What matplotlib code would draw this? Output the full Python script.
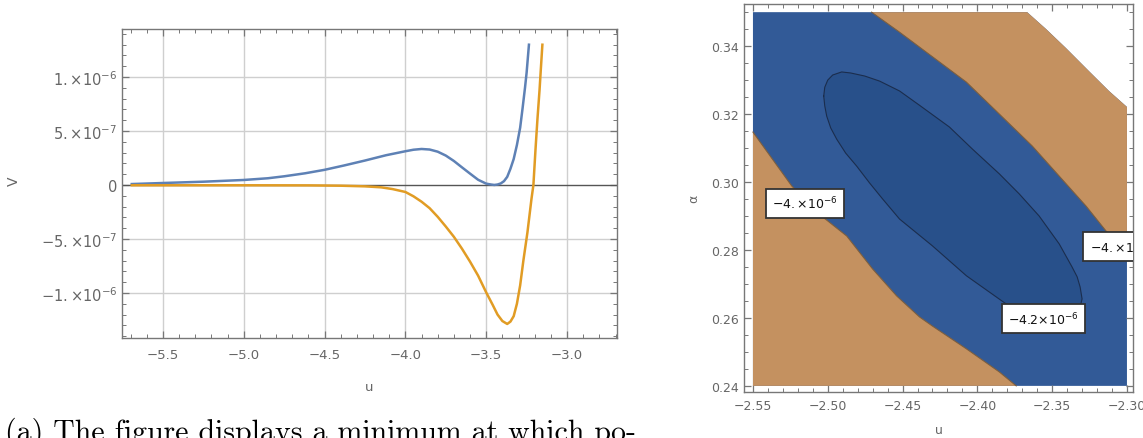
import matplotlib
matplotlib.use('Agg')
import matplotlib.pyplot as plt
from matplotlib.ticker import FixedLocator, MultipleLocator

plt.rcParams['mathtext.fontset'] = 'dejavusans'

# ---- left panel: V(u) along two directions, in units of 1e-6 ----
u_blue = [-5.70, -5.50, -5.25, -5.00, -4.85, -4.75, -4.62, -4.50, -4.38, -4.25,
          -4.12, -4.00, -3.95, -3.90, -3.85, -3.80, -3.75, -3.70, -3.65, -3.60,
          -3.55, -3.50, -3.47, -3.45, -3.43, -3.41, -3.39, -3.37, -3.35, -3.33,
          -3.31, -3.29, -3.275, -3.26, -3.25, -3.235]
v_blue = [0.008, 0.018, 0.030, 0.046, 0.062, 0.080, 0.108, 0.140, 0.180, 0.226,
          0.275, 0.312, 0.326, 0.333, 0.328, 0.308, 0.272, 0.222, 0.163, 0.105,
          0.048, 0.012, 0.004, 0.000, 0.004, 0.014, 0.035, 0.075, 0.150, 0.240,
          0.370, 0.530, 0.710, 0.900, 1.040, 1.310]

u_orange = [-5.70, -5.00, -4.60, -4.40, -4.25, -4.15, -4.08, -4.00, -3.95, -3.90,
            -3.85, -3.80, -3.75, -3.70, -3.65, -3.60, -3.55, -3.50, -3.46, -3.43,
            -3.40, -3.37, -3.35, -3.33, -3.31, -3.29, -3.27, -3.245, -3.22, -3.208,
            -3.195, -3.183, -3.17, -3.162, -3.152]
v_orange = [-0.003, -0.003, -0.004, -0.007, -0.013, -0.022, -0.038, -0.065, -0.105, -0.155,
            -0.215, -0.295, -0.385, -0.480, -0.590, -0.710, -0.840, -0.995, -1.110, -1.200,
            -1.260, -1.287, -1.265, -1.215, -1.100, -0.930, -0.700, -0.440, -0.130, 0.000,
            0.330, 0.610, 0.880, 1.074, 1.310]

v_ticks = [-1.0, -0.5, 0.0, 0.5, 1.0]
v_ticklabels = [r'$-1.{\times}10^{-6}$', r'$-5.{\times}10^{-7}$', '0',
                r'$5.{\times}10^{-7}$', r'$1.{\times}10^{-6}$']
u_ticks = [-5.5, -5.0, -4.5, -4.0, -3.5, -3.0]

# ---- right panel: contour lines of V(u, alpha) ----
u_range = [-2.55, -2.30]
alpha_range = [0.24, 0.35]

# V = -4.2e-6 (closed curve)
ell_u = [-2.5027, -2.5020, -2.5000, -2.4967, -2.4907, -2.4847, -2.4753, -2.4653,
         -2.4520, -2.4387, -2.4187, -2.4033, -2.3853, -2.3720, -2.3587, -2.3453,
         -2.3367, -2.3333, -2.3313, -2.3300, -2.3313, -2.3353, -2.3453, -2.3620,
         -2.3807, -2.4073, -2.4300, -2.4520, -2.4633, -2.4720, -2.4807, -2.4880,
         -2.4940, -2.4980, -2.5007, -2.5020, -2.5027]
ell_a = [0.3253, 0.3279, 0.3300, 0.3315, 0.3324, 0.3321, 0.3312, 0.3297,
         0.3268, 0.3226, 0.3162, 0.3097, 0.3024, 0.2965, 0.2900, 0.2818,
         0.2750, 0.2721, 0.2691, 0.2656, 0.2632, 0.2618, 0.2609, 0.2615,
         0.2641, 0.2724, 0.2812, 0.2891, 0.2950, 0.2997, 0.3047, 0.3085,
         0.3126, 0.3159, 0.3194, 0.3224, 0.3253]

# V = -4e-6, lower-left branch
low_u = [-2.550, -2.524, -2.5033, -2.4873, -2.470, -2.454, -2.4387, -2.430,
         -2.4073, -2.3853, -2.374]
low_a = [0.3147, 0.2988, 0.2897, 0.2841, 0.2744, 0.2665, 0.2603, 0.2576,
         0.2509, 0.2441, 0.2400]

# V = -4e-6, upper-right branch
up_u = [-2.4707, -2.452, -2.4073, -2.3633, -2.3273, -2.314, -2.300]
up_a = [0.3500, 0.3441, 0.3294, 0.3106, 0.2929, 0.2856, 0.2788]

# edge of the region where V is defined (white corner)
dom_u = [-2.3667, -2.3540, -2.3407, -2.3253, -2.3120, -2.3000]
dom_a = [0.3500, 0.3450, 0.3394, 0.3326, 0.3268, 0.3221]

labels = [(-2.5153, 0.2938, r'$-4.{\times}10^{-6}$'),
          (-2.3560, 0.2597, r'$-4.2{\times}10^{-6}$'),
          (-2.3030, 0.2809, r'$-4.{\times}10^{-6}$')]

tan = '#C49160'
band = '#325A97'
inner = '#28508A'
grey = '#666666'

fig = plt.figure(figsize=(11.43, 4.39), dpi=100)

# ---------------- left ----------------
ax = fig.add_axes([0.1067, 0.2278, 0.4331, 0.7039])
ax.plot(u_blue, v_blue, color='#5E81B5', lw=1.8, solid_capstyle='butt', zorder=3)
ax.plot(u_orange, v_orange, color='#E19C24', lw=1.8, solid_capstyle='butt', zorder=3)
ax.axhline(0, color='#555555', lw=1.0, zorder=2)
for t in u_ticks:
    ax.axvline(t, color='#cfcfcf', lw=1.0, zorder=1)
for t in v_ticks:
    if t != 0:
        ax.axhline(t, color='#cfcfcf', lw=1.0, zorder=1)
ax.set_xlim(-5.753, -2.691)
ax.set_ylim(-1.417, 1.444)
ax.xaxis.set_major_locator(FixedLocator(u_ticks))
ax.xaxis.set_minor_locator(MultipleLocator(0.1))
ax.set_xticklabels(['\u2212' + f'{-t:.1f}' for t in u_ticks])
ax.yaxis.set_major_locator(FixedLocator(v_ticks))
ax.yaxis.set_minor_locator(MultipleLocator(0.1))
ax.set_yticklabels(v_ticklabels)
ax.tick_params(which='both', direction='in', top=True, right=True, color='#777777',
               labelcolor=grey)
ax.tick_params(axis='x', labelsize=9.5, pad=7)
ax.tick_params(axis='y', labelsize=10.5)
ax.tick_params(which='major', length=5, width=0.9)
ax.tick_params(which='minor', length=3, width=0.7)
for s in ax.spines.values():
    s.set_color('#777777')
    s.set_linewidth(1.0)
ax.set_xlabel('u', color=grey, fontsize=9.5, labelpad=14)
ax.set_ylabel('V', color=grey, fontsize=10)
ax.yaxis.set_label_coords(-0.205, 0.51)

# ---------------- right ----------------
bx = fig.add_axes([0.6509, 0.1048, 0.3403, 0.8838])
u0, u1 = u_range
a0, a1 = alpha_range
bg_u = [u0, u1] + dom_u[::-1] + [u0]
bg_a = [a0, a0] + dom_a[::-1] + [a1]
bx.fill(bg_u, bg_a, color=band, lw=0, zorder=1)
bx.fill(low_u + [u0], low_a + [a0], color=tan, lw=0, zorder=2)
bx.fill(up_u + dom_u[::-1], up_a + dom_a[::-1], color=tan, lw=0, zorder=2)
bx.fill(ell_u, ell_a, color=inner, lw=0, zorder=3)
bx.plot(ell_u, ell_a, color='#1b2d4d', lw=0.8, zorder=4)
bx.plot(low_u, low_a, color='#7d5f3f', lw=0.8, zorder=4)
bx.plot(up_u, up_a, color='#7d5f3f', lw=0.8, zorder=4)
for lu, la, txt in labels:
    bx.text(lu, la, txt, ha='center', va='center', fontsize=9, color='#111111',
            zorder=6, clip_on=True,
            bbox=dict(boxstyle='square,pad=0.5', fc='white', ec='#333333', lw=1.3))
bx.set_xlim(-2.556, -2.296)
bx.set_ylim(0.2382, 0.3524)
u_t = [-2.55, -2.50, -2.45, -2.40, -2.35, -2.30]
a_t = [0.24, 0.26, 0.28, 0.30, 0.32, 0.34]
bx.xaxis.set_major_locator(FixedLocator(u_t))
bx.xaxis.set_minor_locator(MultipleLocator(0.01))
bx.set_xticklabels(['\u2212' + f'{-t:.2f}' for t in u_t])
bx.yaxis.set_major_locator(FixedLocator(a_t))
bx.yaxis.set_minor_locator(MultipleLocator(0.005))
bx.set_yticklabels([f'{t:.2f}' for t in a_t])
bx.tick_params(which='both', direction='in', top=True, right=True, color='#777777',
               labelcolor=grey, labelsize=9)
bx.tick_params(which='major', length=5, width=0.9)
bx.tick_params(which='minor', length=3, width=0.7)
bx.tick_params(axis='x', pad=5)
for s in bx.spines.values():
    s.set_color('#777777')
    s.set_linewidth(1.0)
bx.set_xlabel('u', color=grey, fontsize=9, labelpad=8)
bx.set_ylabel('\u03b1', color=grey, fontsize=9, labelpad=8)

fig.text(0.004, -0.004, '(a) The figure displays a minimum at which po-',
         family='cmr10', fontsize=21.5, color='black', ha='left', va='baseline')

fig.savefig('out.png', dpi=100)
